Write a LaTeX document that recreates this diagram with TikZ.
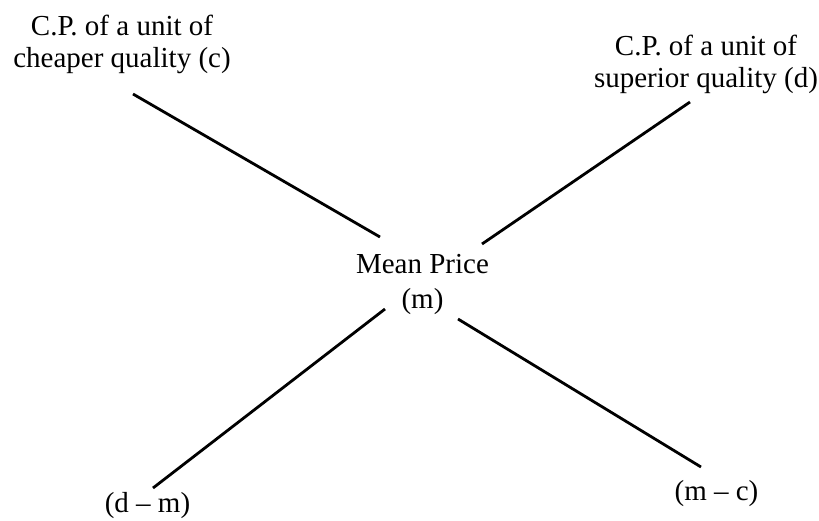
\documentclass[tikz,border=0pt]{standalone}
\usepackage{fontspec}
\setmainfont{Liberation Serif}
\begin{document}
\begin{tikzpicture}[x=1pt,y=-1pt,
  lbl/.style={anchor=base,inner sep=0pt,font=\fontsize{29}{32}\selectfont},
  conn/.style={line width=2.8pt,black}]
\useasboundingbox (0,0) rectangle (819,520);
% labels
\node[lbl] (c1) at (122,35) {C.P. of a unit of};
\node[lbl] (c2) at (122,67) {cheaper quality (c)};
\node[lbl] (d1) at (706,55) {C.P. of a unit of};
\node[lbl] (d2) at (706,87) {superior quality (d)};
\node[lbl] (m1) at (422.5,273) {Mean Price};
\node[lbl] (m2) at (422.5,308) {(m)};
\node[lbl] (dm) at (147.5,512) {(d -- m)};
\node[lbl] (mc) at (716.5,500) {(m -- c)};
% connector ends
\coordinate (a1) at (133,94);
\coordinate (a2) at (380,237);
\coordinate (b1) at (690,102);
\coordinate (b2) at (482,244);
\coordinate (e1) at (385,309);
\coordinate (e2) at (153,488);
\coordinate (f1) at (458,319);
\coordinate (f2) at (701,467);
\draw[conn] (a1) -- (a2);
\draw[conn] (b1) -- (b2);
\draw[conn] (e1) -- (e2);
\draw[conn] (f1) -- (f2);
\end{tikzpicture}
\end{document}
